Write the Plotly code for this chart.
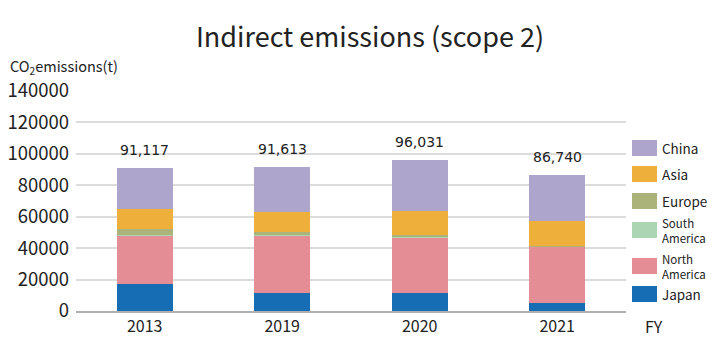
import plotly.graph_objects as go

years = ["2013", "2019", "2020", "2021"]
japan = [17200, 11300, 11300, 5300]
north_america = [30800, 36700, 35400, 35700]
south_america = [500, 500, 1000, 300]
europe = [3500, 2000, 800, 300]
asia = [12800, 12400, 15200, 15700]
totals = [91117, 91613, 96031, 86740]
total_labels = ["91,117", "91,613", "96,031", "86,740"]
others = [japan, north_america, south_america, europe, asia]
china = [t - sum(s[i] for s in others) for i, t in enumerate(totals)]

series = [
    ("Japan", japan, "#176db4"),
    ("North America", north_america, "#e58d95"),
    ("South America", south_america, "#acd6b3"),
    ("Europe", europe, "#abb37b"),
    ("Asia", asia, "#eeb03a"),
    ("China", china, "#ada5cc"),
]

# page body has an 8px default margin: figure is drawn at (8, 8)
OFF = 8
W, H = 720 - OFF, 360 - OFF
ML, MR, MT, MB = 76 - OFF, 102 - OFF, 91 - OFF, 49

fig = go.Figure()
for name, vals, col in series:
    fig.add_trace(go.Bar(x=years, y=vals, name=name, marker_color=col,
                         marker_line_width=0, showlegend=False))

for i, (lab, t) in enumerate(zip(total_labels, totals)):
    fig.add_annotation(x=i, y=t, xref="x", yref="y", text=lab, showarrow=False,
                       yanchor="bottom", yshift=8,
                       font=dict(family="DejaVu Sans", size=14, color="#222"))

font_main = "Noto Sans CJK JP"

pw = W - ML - MR
ph = H - MT - MB
def to_px(x):
    return (x - OFF - ML) / pw
def to_py(y):
    return (H - MB - (y - OFF)) / ph

legend_items = [
    ("China", "#ada5cc", 148, 13.5),
    ("Asia", "#eeb03a", 174, 13.5),
    ("Europe", "#abb37b", 201, 13.5),
    ("South<br>America", "#acd6b3", 230, 11.5),
    ("North<br>America", "#e58d95", 266, 11.5),
    ("Japan", "#176db4", 294, 13.5),
]
for text, col, yc, fs in legend_items:
    fig.add_shape(type="rect", xref="paper", yref="paper",
                  x0=to_px(632), x1=to_px(657), y0=to_py(yc + 8), y1=to_py(yc - 8),
                  fillcolor=col, line_width=0)
    fig.add_annotation(xref="paper", yref="paper", x=to_px(660), y=to_py(yc),
                       text=text, showarrow=False, xanchor="left", yanchor="middle",
                       align="left", font=dict(family=font_main, size=fs, color="#222"))

fig.add_annotation(xref="paper", yref="paper", x=to_px(643), y=to_py(326), text="FY",
                   showarrow=False, xanchor="left", yanchor="middle",
                   font=dict(family=font_main, size=16, color="#222"))
fig.add_annotation(xref="paper", yref="paper", x=to_px(8), y=to_py(66),
                   text="CO<sub>2</sub>emissions(t)", showarrow=False,
                   xanchor="left", yanchor="middle",
                   font=dict(family=font_main, size=14.5, color="#222"))

fig.update_layout(
    width=W, height=H, barmode="stack", bargap=0.59,
    margin=dict(l=ML, r=MR, t=MT, b=MB, autoexpand=False),
    paper_bgcolor="white", plot_bgcolor="white",
    title=dict(text="Indirect emissions (scope 2)", x=(370 - OFF) / W, xanchor="center",
               y=1 - (38 - OFF) / H, yanchor="middle",
               font=dict(family=font_main, size=27, color="#222")),
    font=dict(family=font_main, color="#222"),
)
fig.update_yaxes(range=[0, 140000], dtick=20000, showgrid=True, gridcolor="#dcdcdc",
                 gridwidth=1.5, zeroline=False, ticks="", tickformat="d",
                 automargin=False,
                 tickfont=dict(size=18.5, family=font_main, color="#222"),
                 ticklabelstandoff=6)
fig.update_xaxes(type="category", categoryorder="array", categoryarray=years,
                 range=[-0.5, 3.5], showline=True, linecolor="#b0b0b0", linewidth=2,
                 automargin=False, ticks="",
                 tickfont=dict(size=16, family=font_main, color="#222"))

fig.write_html("out.html")
